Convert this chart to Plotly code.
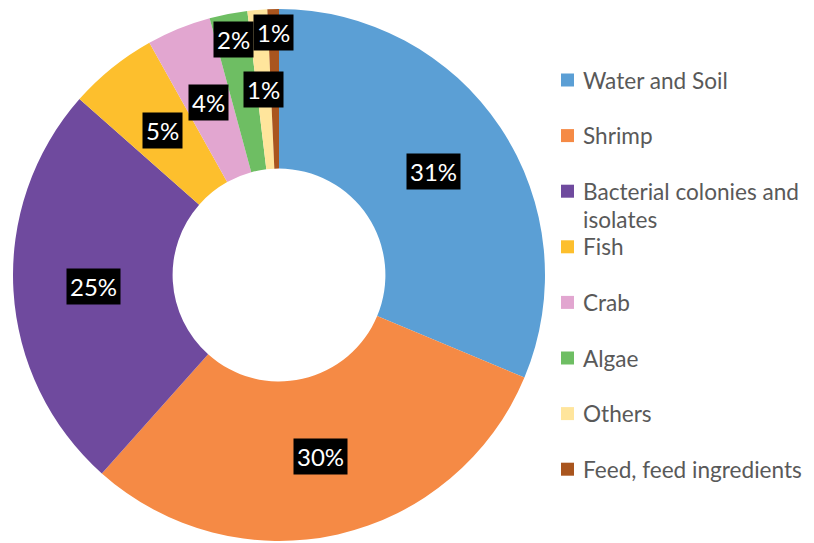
import math
import plotly.graph_objects as go

# Sources of isolates (share, %)
categories = ["Water and Soil", "Shrimp", "Bacterial colonies and isolates", "Fish",
              "Crab", "Algae", "Others", "Feed, feed ingredients"]
shares = [31.3, 30.3, 24.9, 5.4, 3.9, 2.3, 1.2, 0.7]
colors = ["#5B9FD5", "#F58A45", "#6F4A9E", "#FDBF2D",
          "#E2A6D0", "#6EBE63", "#FFE59C", "#A9551E"]
# radial position of each percentage label (fraction of outer radius)
label_radius = [0.70, 0.70, 0.70, 0.70, 0.70, 0.90, 0.70, 0.91]

W, H = 814, 543
FONT = "Lato, 'Open Sans', sans-serif"

# pie placement in pixels
left, right, top, bottom = 13, 545, 9, 541
cx, cy = (left + right) / 2, (top + bottom) / 2
R = (right - left) / 2

fig = go.Figure(go.Pie(
    labels=categories,
    values=shares,
    hole=0.40,
    sort=False,
    direction="clockwise",
    rotation=0,
    marker=dict(colors=colors, line=dict(width=0)),
    textinfo="none",
    hoverinfo="label+percent",
    showlegend=False,
    domain=dict(x=[left / W, right / W], y=[(H - bottom) / H, (H - top) / H]),
))

annotations = []
shapes = []

# percentage labels on black boxes, placed at each slice's mid-angle
total = sum(shares)
cum = 0.0
for v, rf in zip(shares, label_radius):
    mid = (cum + v / 2) / total * 2 * math.pi
    cum += v
    px = cx + rf * R * math.sin(mid)
    py = cy - rf * R * math.cos(mid)
    annotations.append(dict(
        x=px / W, y=1 - py / H, xref="paper", yref="paper",
        text=f"{round(v / total * 100)}%", showarrow=False,
        font=dict(family=FONT, size=24, color="white"),
        bgcolor="black", borderpad=3,
        xanchor="center", yanchor="middle",
    ))

# legend drawn at the right
leg_x0, leg_y0, leg_step, line_step = 561, 80, 55.6, 28
for i, (name, c) in enumerate(zip(categories, colors)):
    y = leg_y0 + i * leg_step
    shapes.append(dict(
        type="rect", xref="paper", yref="paper",
        x0=leg_x0 / W, x1=(leg_x0 + 13) / W,
        y0=1 - (y + 6.5) / H, y1=1 - (y - 6.5) / H,
        fillcolor=c, line=dict(width=0),
    ))
    lines = ["Bacterial colonies and", "isolates"] if name.startswith("Bacterial") else [name]
    for j, ln in enumerate(lines):
        annotations.append(dict(
            x=(leg_x0 + 20) / W, y=1 - (y + j * line_step) / H,
            xref="paper", yref="paper", text=ln, showarrow=False,
            font=dict(family=FONT, size=22.6, color="#595959"),
            xanchor="left", yanchor="middle",
        ))

fig.update_layout(
    width=W, height=H,
    margin=dict(l=0, r=0, t=0, b=0),
    paper_bgcolor="white", plot_bgcolor="white",
    annotations=annotations, shapes=shapes,
)

fig.write_html("out.html")
